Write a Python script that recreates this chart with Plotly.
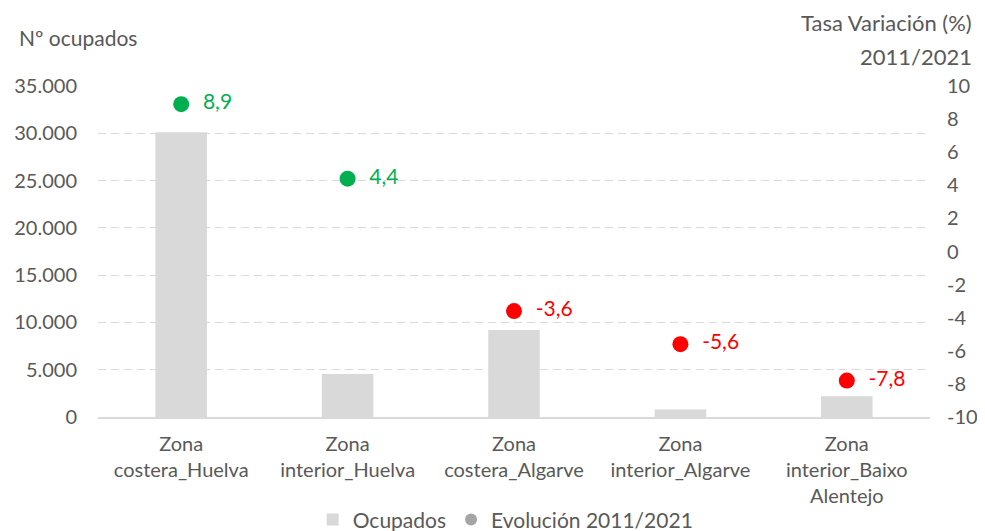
import plotly.graph_objects as go

categories = ["Zona<br>costera_Huelva", "Zona<br>interior_Huelva", "Zona<br>costera_Algarve",
              "Zona<br>interior_Algarve", "Zona<br>interior_Baixo<br>Alentejo"]
ocupados = [30100, 4550, 9200, 800, 2200]
evolucion = [8.9, 4.4, -3.6, -5.6, -7.8]
evolucion_labels = ["8,9", "4,4", "-3,6", "-5,6", "-7,8"]
left_ticks = [0, 5000, 10000, 15000, 20000, 25000, 30000, 35000]
right_ticks = [-10, -8, -6, -4, -2, 0, 2, 4, 6, 8, 10]
right_ticktext = ["-10", "-8", "-6", "-4", "-2", "0", "2", "4", "6", "8", "10"]
right_title_lines = ["Tasa Variación (%)", "2011/2021"]

GREEN = "#00B050"
RED = "#FF0000"
GRAY_TXT = "#595959"
FONT = "Lato"
FS = 20
point_colors = [GREEN if v >= 0 else RED for v in evolucion]

fig = go.Figure()
fig.add_trace(go.Bar(
    x=categories, y=ocupados, name="Ocupados",
    marker=dict(color="#D9D9D9", line=dict(width=0)),
    width=0.31, yaxis="y",
))
fig.add_trace(go.Scatter(
    x=categories, y=evolucion, yaxis="y2", mode="markers+text",
    marker=dict(size=16, color=point_colors),
    text=["  " + t for t in evolucion_labels], textposition="middle right",
    textfont=dict(color=point_colors, size=21, family=FONT),
    showlegend=False, cliponaxis=False,
))
fig.add_trace(go.Scatter(
    x=[None], y=[None], yaxis="y2", mode="markers", name="Evolución 2011/2021",
    marker=dict(size=12, color="#A5A5A5"),
))

fig.update_layout(
    width=977, height=523,
    margin=dict(l=90, r=55, t=78, b=114, autoexpand=False),
    paper_bgcolor="white", plot_bgcolor="white",
    separators=",.",
    font=dict(family=FONT, size=FS, color=GRAY_TXT),
    xaxis=dict(showline=True, linecolor="#D9D9D9", linewidth=1.5, showgrid=False,
               ticks="", ticklabelstandoff=8, tickfont=dict(size=FS, color=GRAY_TXT)),
    yaxis=dict(range=[0, 35000], tickvals=left_ticks, tickformat=",d",
               showgrid=True, gridcolor="#D9D9D9", griddash="8px,5px", gridwidth=1,
               zeroline=False, ticks="", ticklabelstandoff=20,
               tickfont=dict(size=FS, color=GRAY_TXT)),
    yaxis2=dict(range=[-10, 10], tickvals=right_ticks, ticktext=right_ticktext,
                overlaying="y", side="right",
                showgrid=False, zeroline=False, ticks="", ticklabelstandoff=16,
                tickfont=dict(size=FS, color=GRAY_TXT)),
    legend=dict(orientation="h", x=0.49, xanchor="center", y=-0.311, yanchor="middle",
                font=dict(size=FS + 1, color=GRAY_TXT), itemsizing="constant"),
    annotations=[
        dict(text="Nº ocupados", xref="paper", yref="paper", x=-0.0974, y=1.148,
             xanchor="left", yanchor="middle", showarrow=False,
             font=dict(size=21, color=GRAY_TXT)),
        dict(text=right_title_lines[0], xref="paper", yref="paper",
             x=1.053, y=1.193, xanchor="right", yanchor="middle", align="right",
             showarrow=False, font=dict(size=22, color=GRAY_TXT)),
        dict(text=right_title_lines[1], xref="paper", yref="paper",
             x=1.053, y=1.088, xanchor="right", yanchor="middle", align="right",
             showarrow=False, font=dict(size=22, color=GRAY_TXT)),
    ],
)

fig.write_html("out.html")
